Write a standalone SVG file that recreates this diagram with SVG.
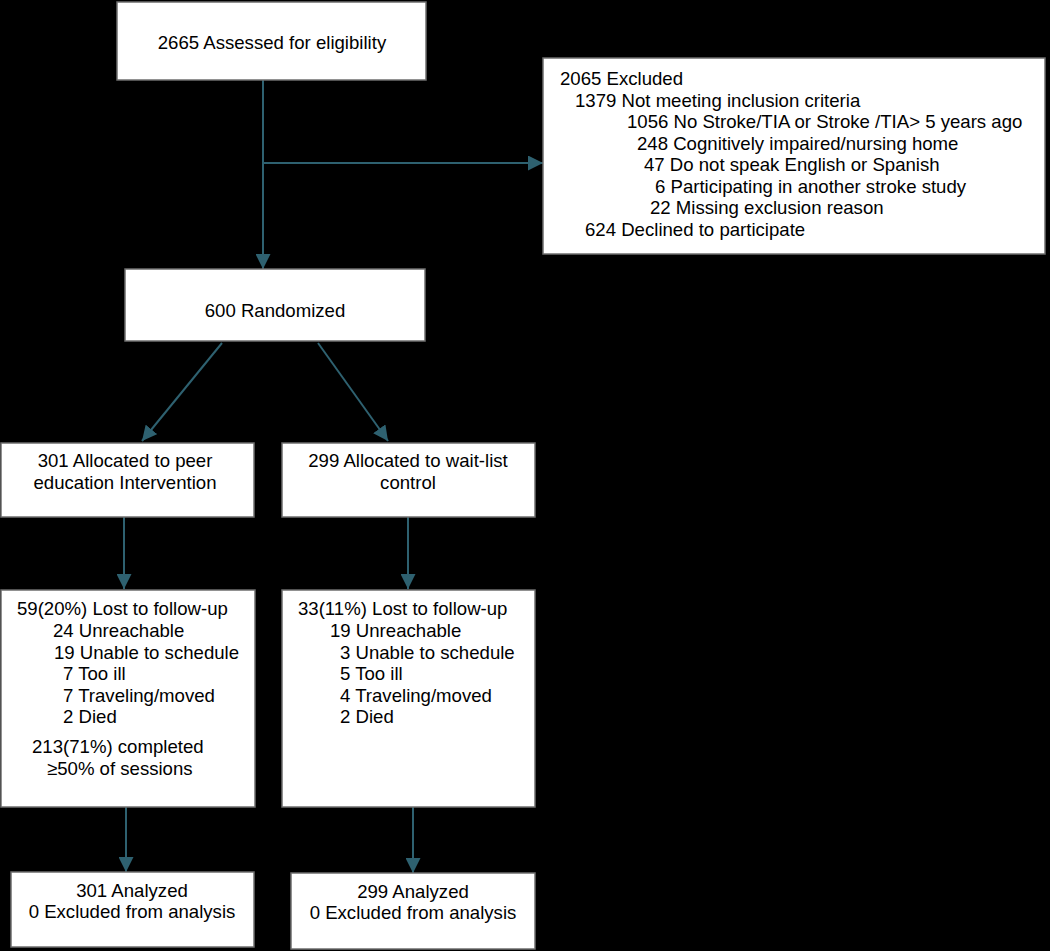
<svg xmlns="http://www.w3.org/2000/svg" width="1050" height="951" viewBox="0 0 1050 951">
<style>
.box{fill:#fff;stroke:#6e6e6e;stroke-width:1.5}
text{font-family:"Liberation Sans",Arial,sans-serif;font-size:18.6px;fill:#000}
.c{text-anchor:middle}
.conn{stroke:#2e6170;stroke-width:2;fill:none}
</style>
<defs>
<marker id="ah" markerUnits="userSpaceOnUse" markerWidth="15" markerHeight="15" viewBox="0 0 15 15" refX="15" refY="7.5" orient="auto">
<path d="M0,0 L15,7.5 L0,15 z" fill="#2e6170"/>
</marker>
</defs>
<rect width="1050" height="951" fill="#000"/>
<g id="connectors">
<line class="conn" x1="263" y1="80" x2="263" y2="269" marker-end="url(#ah)"/>
<line class="conn" x1="263" y1="163" x2="543" y2="163" marker-end="url(#ah)"/>
<line class="conn" x1="222" y1="343" x2="142" y2="441" marker-end="url(#ah)"/>
<line class="conn" x1="318" y1="343" x2="388" y2="441" marker-end="url(#ah)"/>
<line class="conn" x1="124" y1="517" x2="124" y2="589" marker-end="url(#ah)"/>
<line class="conn" x1="408" y1="517" x2="408" y2="589" marker-end="url(#ah)"/>
<line class="conn" x1="126" y1="807" x2="126" y2="872" marker-end="url(#ah)"/>
<line class="conn" x1="413" y1="807" x2="413" y2="873" marker-end="url(#ah)"/>
</g>
<g id="assessed">
<rect class="box" x="117" y="2" width="309" height="78"/>
<text class="c" x="272" y="49">2665 Assessed for eligibility</text>
</g>
<g id="excluded">
<rect class="box" x="543" y="58" width="502" height="196"/>
<text x="560" y="85">2065 Excluded</text>
<text x="575" y="107">1379 Not meeting inclusion criteria</text>
<text x="627" y="128">1056 No Stroke/TIA or Stroke /TIA&gt; 5 years ago</text>
<text x="637" y="150">248 Cognitively impaired/nursing home</text>
<text x="644" y="171">47 Do not speak English or Spanish</text>
<text x="655" y="193">6 Participating in another stroke study</text>
<text x="650" y="214">22 Missing exclusion reason</text>
<text x="585" y="236">624 Declined to participate</text>
</g>
<g id="randomized">
<rect class="box" x="125" y="269" width="300" height="72"/>
<text class="c" x="275" y="317">600 Randomized</text>
</g>
<g id="alloc-intervention">
<rect class="box" x="1" y="443" width="253" height="74"/>
<text class="c" x="125" y="467">301 Allocated to peer</text>
<text class="c" x="125" y="489">education Intervention</text>
</g>
<g id="alloc-control">
<rect class="box" x="282" y="443" width="253" height="74"/>
<text class="c" x="408" y="467">299 Allocated to wait-list</text>
<text class="c" x="408" y="489">control</text>
</g>
<g id="lost-intervention">
<rect class="box" x="1" y="590" width="254" height="217"/>
<text x="17" y="615">59(20%) Lost to follow-up</text>
<text x="53" y="637">24 Unreachable</text>
<text x="54" y="659">19 Unable to schedule</text>
<text x="63" y="680">7 Too ill</text>
<text x="63" y="702">7 Traveling/moved</text>
<text x="63" y="723">2 Died</text>
<text x="32" y="753">213(71%) completed</text>
<text x="47" y="775">≥50% of sessions</text>
</g>
<g id="lost-control">
<rect class="box" x="282" y="590" width="253" height="217"/>
<text x="298" y="615">33(11%) Lost to follow-up</text>
<text x="330" y="637">19 Unreachable</text>
<text x="340" y="659">3 Unable to schedule</text>
<text x="340" y="680">5 Too ill</text>
<text x="340" y="702">4 Traveling/moved</text>
<text x="340" y="723">2 Died</text>
</g>
<g id="analyzed-intervention">
<rect class="box" x="11" y="872" width="243" height="75"/>
<text class="c" x="132" y="897">301 Analyzed</text>
<text class="c" x="132" y="918">0 Excluded from analysis</text>
</g>
<g id="analyzed-control">
<rect class="box" x="291" y="873" width="244" height="76"/>
<text class="c" x="413" y="898">299 Analyzed</text>
<text class="c" x="413" y="919">0 Excluded from analysis</text>
</g>
</svg>
